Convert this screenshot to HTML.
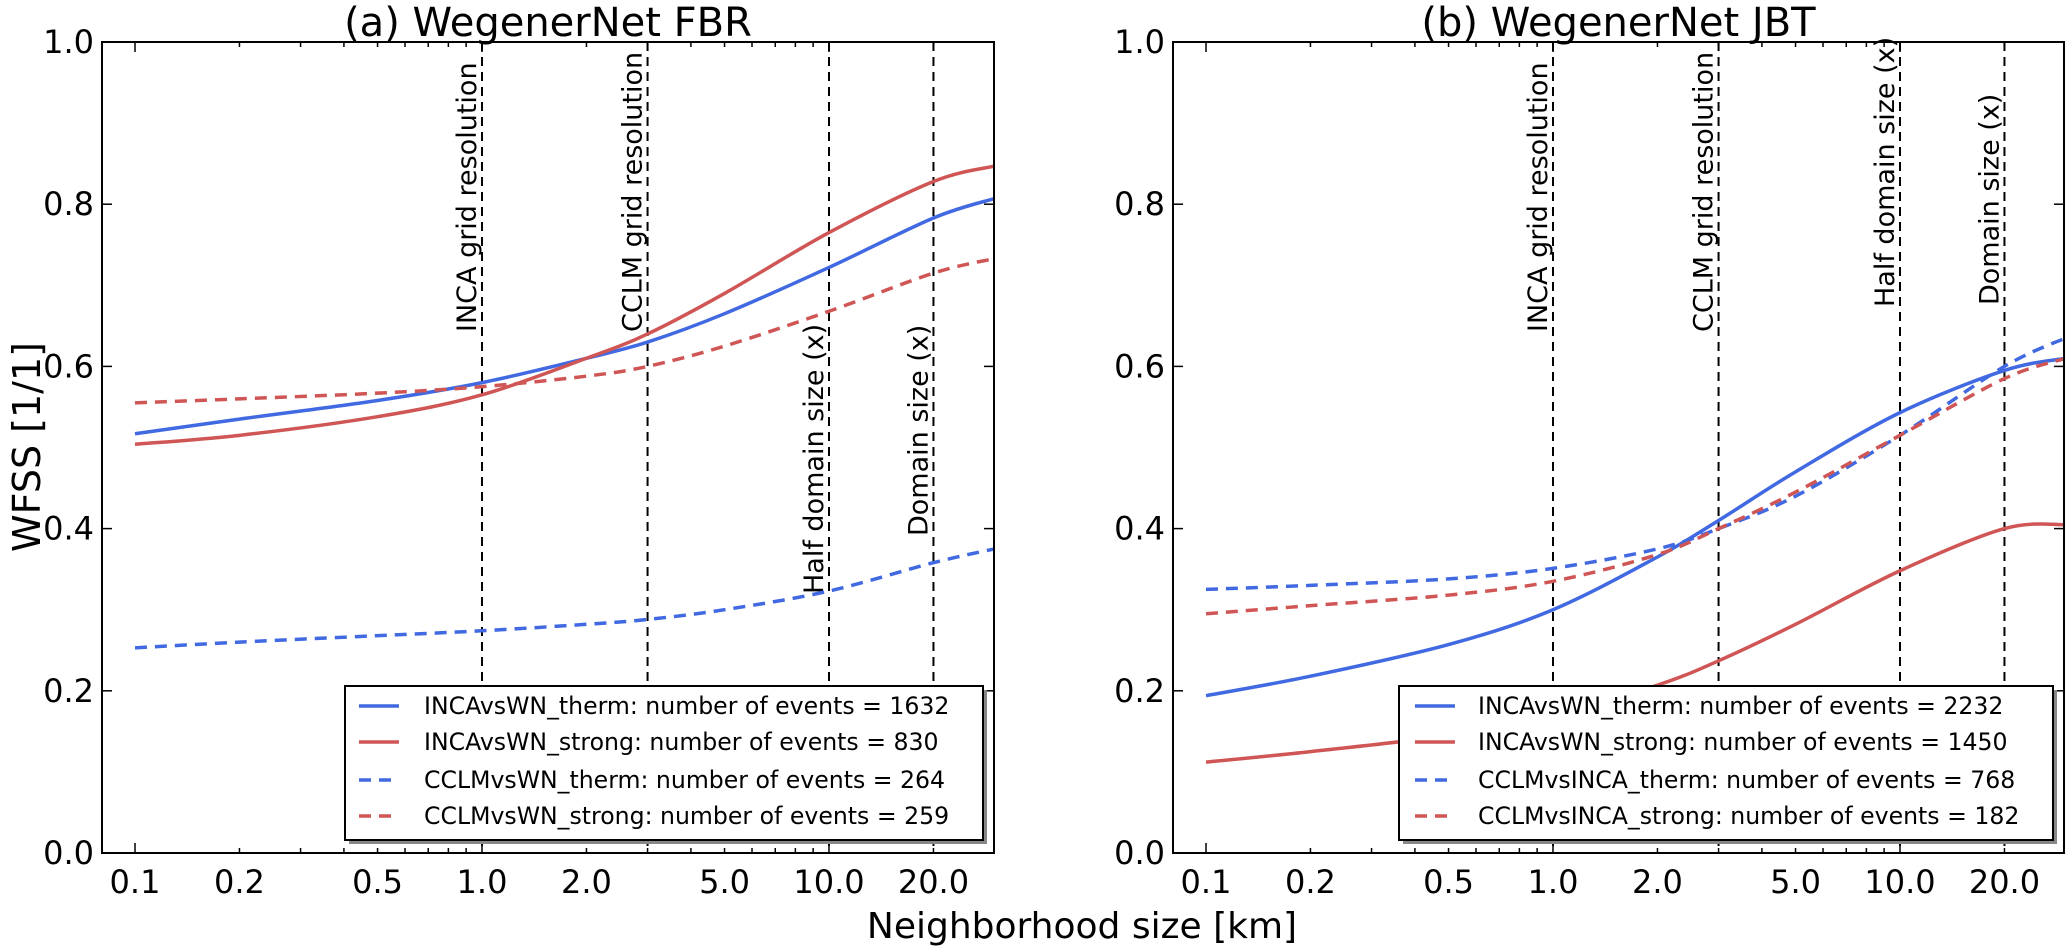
<!DOCTYPE html>
<html><head><meta charset="utf-8"><style>
body{margin:0;background:#fff;}
svg text{font-family:"DejaVu Sans","Liberation Sans",sans-serif;fill:#000;}
</style></head><body>
<svg id="c" width="2067" height="946" viewBox="0 0 2067 946" xmlns="http://www.w3.org/2000/svg"></svg>
<script>
const xVals = [0.1,0.2,0.5,1,2,3,5,10,20,30];
const xTicks = [0.1,0.2,0.5,1,2,5,10,20];
const xTickLabels = ["0.1","0.2","0.5","1.0","2.0","5.0","10.0","20.0"];
const yTicks = [0,0.2,0.4,0.6,0.8,1.0];
const yTickLabels = ["0.0","0.2","0.4","0.6","0.8","1.0"];
const vLines = [1,3,10,20];
const vLabels = ["INCA grid resolution","CCLM grid resolution","Half domain size (x)","Domain size (x)"];
const aIncaTherm = [0.517,0.535,0.558,0.580,0.610,0.630,0.665,0.722,0.783,0.807];
const aIncaStrong = [0.504,0.515,0.538,0.565,0.610,0.640,0.690,0.765,0.828,0.847];
const aCclmTherm = [0.253,0.260,0.268,0.274,0.282,0.288,0.300,0.323,0.358,0.375];
const aCclmStrong = [0.555,0.560,0.567,0.575,0.588,0.600,0.625,0.668,0.715,0.733];
const bIncaTherm = [0.194,0.218,0.257,0.300,0.365,0.410,0.470,0.543,0.595,0.610];
const bIncaStrong = [0.112,0.125,0.145,0.170,0.207,0.237,0.282,0.348,0.400,0.405];
const bCclmTherm = [0.325,0.330,0.338,0.351,0.375,0.400,0.440,0.515,0.600,0.635];
const bCclmStrong = [0.295,0.305,0.318,0.335,0.368,0.400,0.445,0.515,0.585,0.610];
const aLegend = ["INCAvsWN_therm: number of events = 1632","INCAvsWN_strong: number of events = 830","CCLMvsWN_therm: number of events = 264","CCLMvsWN_strong: number of events = 259"];
const bLegend = ["INCAvsWN_therm: number of events = 2232","INCAvsWN_strong: number of events = 1450","CCLMvsINCA_therm: number of events = 768","CCLMvsINCA_strong: number of events = 182"];

const NS="http://www.w3.org/2000/svg";
const svg=document.getElementById('c');
function mk(tag,attrs,parent){const e=document.createElementNS(NS,tag);for(const k in attrs)e.setAttribute(k,attrs[k]);(parent||svg).appendChild(e);return e;}
const BLUE="#4169e1", RED="#d05555";
const Y0=853, Y1=42;
function yS(v){return Y0+(Y1-Y0)*v;}

function panel(id,left,right,x01,title,series,legend,legBox,vLabelBottoms){
  const g=mk('g',{});
  
  
  const dec=347;
  const xS=v=>x01+dec*(Math.log10(v)+1);
  const clip=mk('clipPath',{id:id+'-clip'},g);
  mk('rect',{x:left,y:Y1,width:right-left,height:Y0-Y1},clip);
  vLines.forEach((v,i)=>{
    const l=mk('line',{x1:xS(v),x2:xS(v),y1:Y1,y2:Y0,stroke:'#000','stroke-width':2,'stroke-dasharray':'9,6'},g);
    
    
    const t=mk('text',{x:0,y:0,'font-size':27,transform:`translate(${xS(v)-6},${vLabelBottoms[i]}) rotate(-90)`},g);
    t.textContent=vLabels[i];
    
    
  });
  series.forEach((s,si)=>{
    const pts=xVals.map((v,i)=>[xS(v),yS(s.vals[i])]);
    let d=`M${pts[0][0]},${pts[0][1]}`;
    for(let i=0;i<pts.length-1;i++){
      const p0=pts[Math.max(0,i-1)],p1=pts[i],p2=pts[i+1],p3=pts[Math.min(pts.length-1,i+2)];
      const c1=[p1[0]+(p2[0]-p0[0])/6,p1[1]+(p2[1]-p0[1])/6];
      const c2=[p2[0]-(p3[0]-p1[0])/6,p2[1]-(p3[1]-p1[1])/6];
      d+=` C${c1[0]},${c1[1]} ${c2[0]},${c2[1]} ${p2[0]},${p2[1]}`;
    }
    const p=mk('path',{d,fill:'none',stroke:s.color,'stroke-width':3.5,'clip-path':`url(#${id}-clip)`},g);
    if(s.dash)p.setAttribute('stroke-dasharray','12,8');
    
    
  });
  const fr=mk('rect',{x:left,y:Y1,width:right-left,height:Y0-Y1,fill:'none',stroke:'#000','stroke-width':2},g);
  
  
  yTicks.forEach((v,i)=>{
    mk('line',{x1:left,x2:left+10,y1:yS(v),y2:yS(v),stroke:'#000','stroke-width':1.5},g);
    mk('line',{x1:right,x2:right-10,y1:yS(v),y2:yS(v),stroke:'#000','stroke-width':1.5},g);
    const t=mk('text',{x:left-8,y:yS(v)+11,'font-size':32,'text-anchor':'end'},g);
    t.textContent=yTickLabels[i];
    
    
  });
  for(let e=-1;e<=1;e++)for(let m=1;m<=9;m++){
    const v=m*Math.pow(10,e);const x=xS(v);
    if(x<left||x>right)continue;
    const len=m===1?10:5;
    mk('line',{x1:x,x2:x,y1:Y0,y2:Y0-len,stroke:'#000','stroke-width':1.5},g);
    mk('line',{x1:x,x2:x,y1:Y1,y2:Y1+len,stroke:'#000','stroke-width':1.5},g);
  }
  xTicks.forEach((v,i)=>{
    const t=mk('text',{x:xS(v),y:Y0+40,'font-size':32,'text-anchor':'middle'},g);
    t.textContent=xTickLabels[i];
    
    
  });
  const tt=mk('text',{x:(left+right)/2,y:36,'font-size':40,'text-anchor':'middle'},g);
  tt.textContent=title;
  
  
  const lg=mk('g',{},g);
  
  
  mk('rect',{x:legBox[0]+4,y:legBox[1]+4,width:legBox[2]-legBox[0],height:legBox[3]-legBox[1],fill:'#888'},lg);
  mk('rect',{x:legBox[0],y:legBox[1],width:legBox[2]-legBox[0],height:legBox[3]-legBox[1],fill:'#fff',stroke:'#000','stroke-width':2},lg);
  const rows=[706,742,780,816];
  series.forEach((s,i)=>{
    const ln=mk('line',{x1:legBox[4],x2:legBox[4]+40,y1:rows[i],y2:rows[i],stroke:s.color,'stroke-width':3.5},lg);
    if(s.dash)ln.setAttribute('stroke-dasharray','12,8');
    const t=mk('text',{x:legBox[5],y:rows[i]+8,'font-size':23.6},lg);
    t.textContent=legend[i];
    
    
  });
}
panel('panel-a',102,994,135,'(a) WegenerNet FBR',[
 {name:'inca-therm',vals:aIncaTherm,color:BLUE,dash:false},
 {name:'inca-strong',vals:aIncaStrong,color:RED,dash:false},
 {name:'cclm-therm',vals:aCclmTherm,color:BLUE,dash:true},
 {name:'cclm-strong',vals:aCclmStrong,color:RED,dash:true}],
 aLegend,[345,686,983,840,359,424],[332,332,594,536]);
panel('panel-b',1173,2064,1206,'(b) WegenerNet JBT',[
 {name:'inca-therm',vals:bIncaTherm,color:BLUE,dash:false},
 {name:'inca-strong',vals:bIncaStrong,color:RED,dash:false},
 {name:'cclm-therm',vals:bCclmTherm,color:BLUE,dash:true},
 {name:'cclm-strong',vals:bCclmStrong,color:RED,dash:true}],
 bLegend,[1399,686,2053,840,1415,1478],[332,332,307,305]);
const yl=mk('text',{x:0,y:0,'font-size':38,'text-anchor':'middle',transform:'translate(40,447) rotate(-90)'});
yl.textContent='WFSS [1/1]';


const xl=mk('text',{x:1082,y:938,'font-size':36,'text-anchor':'middle'});
xl.textContent='Neighborhood size [km]';


</script>
</body></html>
